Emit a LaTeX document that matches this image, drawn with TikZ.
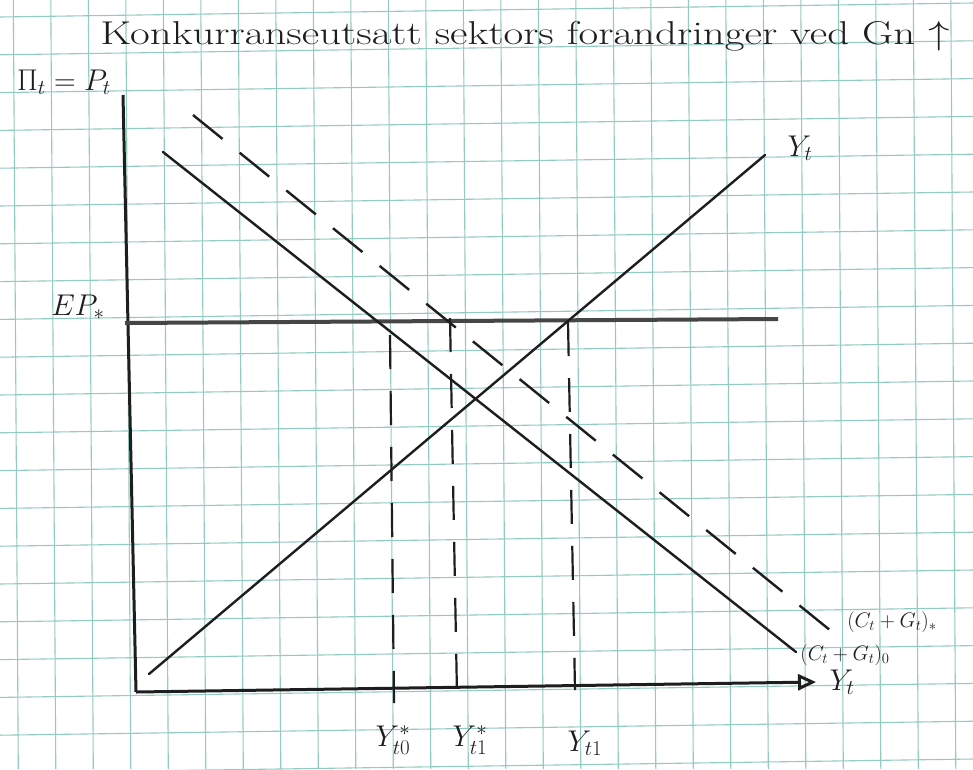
\RequirePackage{fix-cm}
\documentclass[tikz,border=0pt]{standalone}
\usetikzlibrary{arrows.meta}
\definecolor{gridc}{RGB}{145,203,193}
\definecolor{ink}{RGB}{30,30,30}
\definecolor{epc}{RGB}{70,70,70}
\begin{document}
\begin{tikzpicture}[x=1pt,y=-1pt,
  gridline/.style={gridc,line width=1.1pt},
  axis/.style={ink,line width=3pt},
  curve/.style={ink,line width=2.4pt,line cap=round},
  dashcurve/.style={ink,line width=2.4pt,dash pattern=on 38pt off 22pt},
  vdash/.style={ink,line width=2.2pt,dash pattern=on 34pt off 22pt},
  lab/.style={ink,font=\fontsize{30}{32}\selectfont},
  slab/.style={ink,font=\fontsize{21}{23}\selectfont}]
\fill[white] (0,0) rectangle (973,769);
\useasboundingbox (0,0) rectangle (973,769);
\begin{scope}
\clip (0,0) rectangle (973,769);
\foreach \k in {0,...,25} \draw[gridline] ({13.3+37.5*\k},0) -- ({18.3+37.5*\k},769);
\foreach \j in {0,...,20} \draw[gridline] (0,{17+37.8*\j}) -- (973,{3+37.8*\j});
\end{scope}
% title
\node[ink,font=\fontsize{33}{35}\selectfont] (title) at (525,36) {\scalebox{1.3}[1]{Konkurranseutsatt sektors forandringer ved Gn $\uparrow$}};
% axes
\coordinate (ytop) at (123,95);
\coordinate (O) at (136,692);
\coordinate (xend) at (816,682);
\draw[axis] (ytop) -- (O);
\draw[axis,-{Triangle[open,length=18pt,width=16pt]}] (O) -- (xend);
% EP line
\coordinate (ep0) at (125,323);
\coordinate (ep1) at (778,319);
\draw[epc,line width=4pt] (ep0) -- (ep1);
% supply Y_t
\coordinate (ys0) at (149,674);
\coordinate (ys1) at (765,155);
\draw[curve] (ys0) -- (ys1);
% demand 0
\coordinate (d0a) at (163,152);
\coordinate (d0b) at (796,652);
\draw[curve] (d0a) -- (d0b);
% demand 1 dashed
\coordinate (d1a) at (193,115);
\coordinate (d1b) at (836,635);
\draw[dashcurve] (d1a) -- (d1b);
% vertical dashed lines
\coordinate (v0t) at (390,335);
\coordinate (v0b) at (394,703);
\coordinate (v1t) at (450,318);
\coordinate (v1b) at (457,695);
\coordinate (v2t) at (568,322);
\coordinate (v2b) at (575,690);
\draw[vdash] (v0t) -- (v0b);
\draw[vdash] (v1t) -- (v1b);
\draw[vdash] (v2t) -- (v2b);
% labels
\node[lab] (lpi) at (64,82) {$\Pi_t = P_t$};
\node[lab] (lep) at (78,307) {$EP_*$};
\node[lab] (lyt) at (800,148) {$Y_t$};
\node[lab] (lyx) at (842,682) {$Y_t$};
\node[slab] (ld0) at (845,655) {$(C_t+G_t)_0$};
\node[slab] (ld1) at (892,622) {$(C_t+G_t)_*$};
\node[lab] (ly0) at (393,740) {$Y^*_{t0}$};
\node[lab] (ly1) at (470,740) {$Y^*_{t1}$};
\node[lab] (ly2) at (585,743) {$Y_{t1}$};
\end{tikzpicture}
\end{document}
